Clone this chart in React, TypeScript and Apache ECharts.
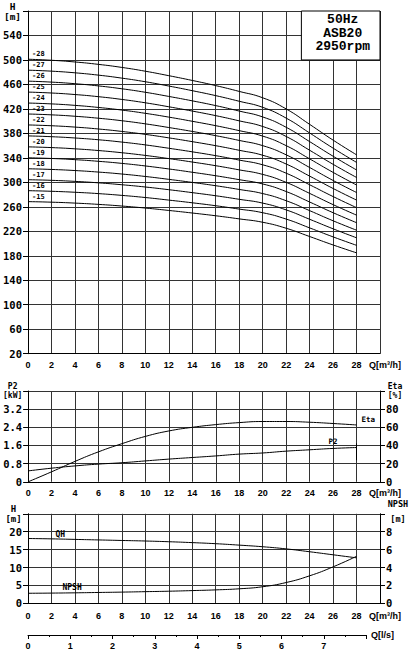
import React, { useEffect, useRef } from "react";
import * as echarts from "echarts";

// Flow rate sample points [m³/h]
const flowM3h = [0, 2, 4, 6, 8, 10, 12, 14, 16, 18, 20, 22, 24, 26, 28];

// Stage labels and head curves [m] (top chart)
const stageLabels = ["-28", "-27", "-26", "-25", "-24", "-23", "-22", "-21", "-20", "-19", "-18", "-17", "-16", "-15"];
const head28 = [501.2, 499.5, 496.7, 492.8, 487.8, 481.6, 474.3, 466.5, 458.1, 448.6, 438.2, 420.0, 394.8, 369.0, 345.0];
const head27 = [483.3, 481.7, 479.0, 475.2, 470.3, 464.4, 457.4, 449.8, 441.7, 432.5, 422.6, 405.0, 380.7, 355.9, 332.6];
const head26 = [465.4, 463.8, 461.2, 457.6, 452.9, 447.2, 440.4, 433.2, 425.4, 416.5, 406.9, 390.0, 366.6, 342.7, 320.3];
const head25 = [447.5, 446.0, 443.5, 440.0, 435.5, 430.0, 423.5, 416.5, 409.0, 400.5, 391.3, 375.0, 352.5, 329.5, 308.0];
const head24 = [429.6, 428.2, 425.8, 422.4, 418.1, 412.8, 406.6, 399.8, 392.6, 384.5, 375.6, 360.0, 338.4, 316.3, 295.7];
const head23 = [411.7, 410.3, 408.0, 404.8, 400.7, 395.6, 389.6, 383.2, 376.3, 368.5, 360.0, 345.0, 324.3, 303.1, 283.4];
const head22 = [393.8, 392.5, 390.3, 387.2, 383.2, 378.4, 372.7, 366.5, 359.9, 352.4, 344.3, 330.0, 310.2, 290.0, 271.0];
const head21 = [375.9, 374.6, 372.5, 369.6, 365.8, 361.2, 355.7, 349.9, 343.6, 336.4, 328.7, 315.0, 296.1, 276.8, 258.7];
const head20 = [358.0, 356.8, 354.8, 352.0, 348.4, 344.0, 338.8, 333.2, 327.2, 320.4, 313.0, 300.0, 282.0, 263.6, 246.4];
const head19 = [340.1, 339.0, 337.1, 334.4, 331.0, 326.8, 321.9, 316.5, 310.8, 304.4, 297.4, 285.0, 267.9, 250.4, 234.1];
const head18 = [322.2, 321.1, 319.3, 316.8, 313.6, 309.6, 304.9, 299.9, 294.5, 288.4, 281.7, 270.0, 253.8, 237.2, 221.8];
const head17 = [304.3, 303.3, 301.6, 299.2, 296.1, 292.4, 288.0, 283.2, 278.1, 272.3, 266.1, 255.0, 239.7, 224.1, 209.4];
const head16 = [286.4, 285.4, 283.8, 281.6, 278.7, 275.2, 271.0, 266.6, 261.8, 256.3, 250.4, 240.0, 225.6, 210.9, 197.1];
const head15 = [268.5, 267.6, 266.1, 264.0, 261.3, 258.0, 254.1, 249.9, 245.4, 240.3, 234.8, 225.0, 211.5, 197.7, 184.8];
const stageHeads = [head28, head27, head26, head25, head24, head23, head22, head21, head20, head19, head18, head17, head16, head15];

// Middle chart: shaft power [kW] and efficiency [%]
const powerP2 = [0.48, 0.6, 0.7, 0.78, 0.84, 0.92, 1.0, 1.07, 1.14, 1.22, 1.27, 1.35, 1.41, 1.47, 1.51];
const efficiencyEta = [0, 11, 22.5, 33, 42, 50, 56, 60, 63, 65.2, 66.4, 66.4, 65.6, 64.2, 62.6];
const p2EndMarker = [1.69, 0.95];

// Bottom chart: single-stage head [m] and NPSH [m]
const headQH = [18.1, 18.0, 17.85, 17.7, 17.55, 17.4, 17.2, 16.95, 16.65, 16.25, 15.8, 15.2, 14.4, 13.55, 12.7];
const npshValues = [1.12, 1.14, 1.17, 1.21, 1.25, 1.3, 1.35, 1.42, 1.5, 1.62, 1.85, 2.32, 3.07, 4.07, 5.25];

// Title box
const titleLines = ["50Hz", "ASB20", "2950rpm"];
const titleBox = [[23.3, 500], [30, 580]];

const MONO = "DejaVu Sans Mono";
const SANS = "Liberation Sans";
const GRID_LINE = { color: "#333", width: 1 };
const BLACK = { color: "#000", width: 1 };

export default function App() {
  const ref = useRef<HTMLDivElement>(null);

  useEffect(() => {
    if (!ref.current) return;
    const chart = echarts.init(ref.current, null, { renderer: "svg" });

    const xAxisFor = (gridIndex: number, margin: number) => ({
      type: "value",
      gridIndex,
      min: 0,
      max: 30,
      interval: 2,
      axisLine: { show: true, onZero: false, lineStyle: BLACK },
      axisTick: { show: false },
      splitLine: { show: true, lineStyle: GRID_LINE },
      axisLabel: {
        margin,
        fontFamily: SANS,
        fontWeight: "bold",
        fontSize: 9,
        color: "#000",
        formatter: (v: number) => (v === 30 ? "{q|Q[m³/h]}" : String(v)),
        rich: { q: { fontFamily: SANS, fontWeight: "bold", fontSize: 9, color: "#000", padding: [0, 0, 0, 10] } },
      },
    });

    const yLabel = (fmt: (v: number) => string) => ({
      margin: 6,
      fontFamily: MONO,
      fontWeight: "bold",
      fontSize: 10.5,
      color: "#000",
      formatter: fmt,
    });

    const nameStyle = (padding: number[], fontSize: number, lineHeight: number) => ({
      fontFamily: MONO,
      fontWeight: "bold",
      fontSize,
      lineHeight,
      color: "#000",
      align: "center",
      verticalAlign: "middle",
      padding,
    });

    const yAxisFor = (
      gridIndex: number,
      min: number,
      max: number,
      interval: number,
      position: string,
      fmt: (v: number) => string,
      name: string,
      nStyle: any,
      split: boolean
    ) => ({
      type: "value",
      gridIndex,
      min,
      max,
      interval,
      position,
      axisLine: { show: true, lineStyle: BLACK },
      axisTick: { show: true, length: 5, lineStyle: BLACK },
      splitLine: { show: split, lineStyle: GRID_LINE },
      axisLabel: yLabel(fmt),
      name,
      nameLocation: "end",
      nameGap: 0,
      nameTextStyle: nStyle,
    });

    const smallLabel = (text: string, position: string, distance: number, offset: number[], fontSize = 7.5) => ({
      show: true,
      formatter: text,
      position,
      distance,
      offset,
      fontFamily: MONO,
      fontWeight: "bold",
      fontSize,
      color: "#000",
    });

    const lineBase = {
      type: "line",
      smooth: 0.5,
      symbol: "circle",
      symbolSize: 0,
      showSymbol: true,
      silent: true,
      lineStyle: BLACK,
      itemStyle: { color: "#000" },
      z: 3,
    };

    const stageSeries = stageHeads.map((vals, i) => ({
      ...lineBase,
      name: stageLabels[i],
      xAxisIndex: 0,
      yAxisIndex: 0,
      data: vals.map((h, j) =>
        j === 0
          ? { value: [flowM3h[j], h], label: smallLabel(stageLabels[i], "right", 4, [0, -5], 7) }
          : [flowM3h[j], h]
      ),
      ...(i === 0
        ? {
            markArea: {
              silent: true,
              itemStyle: { color: "#fff", borderColor: "#000", borderWidth: 1 },
              label: {
                show: true,
                position: "inside",
                formatter: titleLines.join("\n"),
                fontFamily: "Liberation Mono",
                fontWeight: "bold",
                fontSize: 13,
                lineHeight: 13.5,
                color: "#000",
                offset: [2, -2],
              },
              data: [[{ coord: titleBox[0] }, { coord: titleBox[1] }]],
            },
          }
        : {}),
    }));

    const option: any = {
      animation: false,
      backgroundColor: "#fff",
      grid: [
        { left: 28, top: 8.3, width: 352, height: 345.4, containLabel: false },
        { left: 28, top: 391, width: 352, height: 90.8, containLabel: false },
        { left: 28, top: 513.8, width: 352, height: 89.5, containLabel: false },
        { left: 28, top: 625, width: 338, height: 10, containLabel: false },
      ],
      xAxis: [
        xAxisFor(0, 7),
        xAxisFor(1, 7),
        xAxisFor(2, 8),
        {
          type: "value",
          gridIndex: 3,
          min: 0,
          max: 8,
          interval: 1,
          position: "bottom",
          axisLine: { show: true, onZero: false, lineStyle: BLACK },
          axisTick: { show: true, length: 4, inside: false, lineStyle: BLACK },
          minorTick: { show: true, splitNumber: 2, length: 2, lineStyle: BLACK },
          splitLine: { show: false },
          axisLabel: {
            margin: 6,
            fontFamily: SANS,
            fontWeight: "bold",
            fontSize: 9,
            color: "#000",
            formatter: (v: number) => (v === 8 ? "" : String(v)),
          },
          name: "Q[l/s]",
          nameLocation: "end",
          nameGap: 5,
          nameTextStyle: { fontFamily: SANS, fontWeight: "bold", fontSize: 9, color: "#000", padding: [20, 0, 0, 0] },
        },
      ],
      yAxis: [
        yAxisFor(0, 20, 580, 40, "left", (v) => (v === 580 ? "" : String(v)), "H\n[m]", nameStyle([2, 31, 0, 0], 9.5, 10), true),
        yAxisFor(1, 0, 4, 0.8, "left", (v) => (v >= 4 ? "" : v === 0 ? "0" : v.toFixed(1)), "P2\n[kW]", nameStyle([6, 31, 0, 0], 8, 8.5), true),
        yAxisFor(1, 0, 100, 20, "right", (v) => (v === 100 ? "" : String(v)), "Eta\n[%]", nameStyle([0, 0, 0, 30], 8, 8.5), false),
        yAxisFor(2, 0, 25, 5, "left", (v) => (v === 25 ? "" : String(v)), "H\n[m]", nameStyle([0, 29, 0, 0], 9, 9.5), true),
        yAxisFor(2, 0, 10, 2, "right", (v) => (v === 10 ? "" : String(v)), "NPSH\n[m]", nameStyle([0, 0, 0, 36], 8.5, 15), false),
        { type: "value", gridIndex: 3, show: false, min: 0, max: 1 },
      ],
      series: [
        ...stageSeries,
        {
          ...lineBase,
          name: "P2",
          xAxisIndex: 1,
          yAxisIndex: 1,
          data: powerP2.map((p, j) =>
            j === 13 ? { value: [flowM3h[j], p], label: smallLabel("P2", "top", 3, [0, 0]) } : [flowM3h[j], p]
          ),
          markLine: {
            silent: true,
            symbol: "none",
            label: { show: false },
            lineStyle: { color: "#000", width: 1, type: "solid" },
            data: [[{ coord: [flowM3h[14], p2EndMarker[0]] }, { coord: [flowM3h[14], p2EndMarker[1]] }]],
          },
        },
        {
          ...lineBase,
          name: "Eta",
          xAxisIndex: 1,
          yAxisIndex: 2,
          data: efficiencyEta.map((e, j) =>
            j === 14 ? { value: [flowM3h[j], e], label: smallLabel("Eta", "right", 5, [0, -5]) } : [flowM3h[j], e]
          ),
        },
        {
          ...lineBase,
          name: "QH",
          xAxisIndex: 2,
          yAxisIndex: 3,
          data: headQH.map((h, j) =>
            j === 1 ? { value: [flowM3h[j], h], label: smallLabel("QH", "right", 4, [0, -4], 8) } : [flowM3h[j], h]
          ),
        },
        {
          ...lineBase,
          name: "NPSH",
          xAxisIndex: 2,
          yAxisIndex: 4,
          data: npshValues.map((n, j) =>
            j === 1 ? { value: [flowM3h[j], n], label: smallLabel("NPSH", "right", 11, [0, -6], 8) } : [flowM3h[j], n]
          ),
        },
      ],
    };

    chart.setOption(option);
    return () => chart.dispose();
  }, []);

  return <div ref={ref} style={{ position: "absolute", left: 0, top: 0, width: 415, height: 662 }} />;
}
